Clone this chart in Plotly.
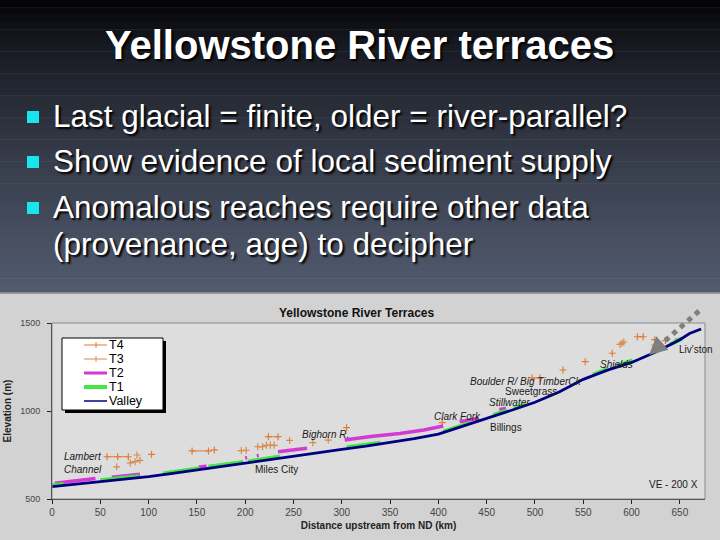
import plotly.graph_objects as go

# ---------------- data ----------------
valley_km = [0, 25, 50, 75, 100, 125, 150, 175, 200, 225, 250, 275, 300, 325, 350, 375,
             400, 425, 450, 475, 500, 525, 550, 575, 600, 625, 650, 660, 672]
valley_elev = [570, 584, 598, 612, 627, 645, 665, 684, 703, 725, 746, 764, 782, 800, 820, 843,
               869, 912, 958, 1003, 1050, 1108, 1180, 1232, 1276, 1335, 1405, 1440, 1466]

t1_km = [0, 12, None, 50, 70, 90, None, 115, 135, 153, None, 162, 180, 198, None, 203, 220, 236,
         None, 305, 320, 340, None, 405, 420, 433, None, 457, 471, None, 478, 490, None,
         560, 575, None, 585, 601, None, 640, 652]
t1_elev = [578, 585, None, 606, 617, 629, None, 645, 661, 675, None, 683, 696, 710, None, 713, 728, 741,
           None, 794, 804, 820, None, 882, 910, 932, None, 978, 1003, None, 1015, 1036, None,
           1206, 1240, None, 1258, 1287, None, 1378, 1412]

t2_km = [3, 25, 45, None, 62, 75, 91, None, 152, 160, None, 200, 202, None, 212, 214, None,
         234, 250, 264, None, 303, 330, 360, 385, 405, None, 422, 441, None, 463, 470, None, 645, 652]
t2_elev = [589, 603, 617, None, 623, 632, 641, None, 682, 686, None, 733, 735, None, 746, 748, None,
           769, 777, 788, None, 835, 855, 872, 892, 915, None, 939, 958, None, 1008, 1014, None, 1400, 1410]

t4_km = [57, 68, 79, None, 103, None, 145, 162, None, 168, None, 224, 234, None, 305, None, 404, None,
         497, 505, None, 529, None, 552, None, 580, None, 606, 612, None, 624, None, 635]
t4_elev = [740, 740, 740, None, 754, None, 773, 773, None, 779, None, 854, 854, None, 905, None, 934, None,
           1188, 1188, None, 1233, None, 1280, None, 1328, None, 1422, 1422, None, 1405, None, 1400]

t3_km = [67, None, 81, 86, 91, None, 88, None, 196, 201, None, 213, 218, None, 222, 226, 230, None,
         246, None, 270, None, 286, None, 588, 590, 592, None, 624]
t3_elev = [683, None, 705, 712, 720, None, 750, None, 775, 777, None, 797, 797, None, 805, 805, 805, None,
           833, None, 820, None, 835, None, 1378, 1385, 1392, None, 1375]

x_ticks = list(range(0, 651, 50))
y_ticks = [500, 1000, 1500]

place_names = ["<i>Lambert</i>", "<i>Channel</i>", "Miles City", "<i>Bighorn R.</i>", "<i>Clark Fork</i>",
               "Billings", "<i>Stillwater</i>", "Sweetgrass", "<i>Boulder R/ Big TimberCk</i>",
               "<i>Shields</i>", "Liv'ston", "VE - 200 X"]
place_km = [10, 10, 208, 257, 393, 451, 450, 467, 431, 565, 647, 616]
place_elev = [739, 665, 665, 869, 966, 909, 1051, 1108, 1165, 1267, 1352, 585]

bullets = ["Last glacial = finite, older = river-parallel?",
           "Show evidence of local sediment supply",
           "Anomalous reaches require other data",
           "(provenance, age) to decipher"]

legend_names = ["T4", "T3", "T2", "T1", "Valley"]

# ---------------- geometry helpers (pixel -> paper) ----------------
W, H = 720, 540
PL, PR, PT, PB = 52, 705, 323, 499
def fx(px):
    return (px - PL) / (PR - PL)
def fy(py):
    return (PB - py) / (PB - PT)

ORANGE4 = "#e07b39"
ORANGE3 = "#d98a4a"
MAGENTA = "#d23ad2"
GREEN = "#3ee83e"
NAVY = "#000080"
FONT = "Liberation Sans, Arial"

fig = go.Figure()
fig.add_trace(go.Scatter(x=t4_km, y=t4_elev, mode="lines+markers", name="T4",
                         line=dict(color=ORANGE4, width=1),
                         marker=dict(symbol="cross-thin", size=5, line=dict(color=ORANGE4, width=1.2)),
                         connectgaps=False))
fig.add_trace(go.Scatter(x=t3_km, y=t3_elev, mode="lines+markers", name="T3",
                         line=dict(color=ORANGE3, width=1),
                         marker=dict(symbol="cross-thin", size=5, line=dict(color=ORANGE3, width=1.2)),
                         connectgaps=False))
fig.add_trace(go.Scatter(x=t2_km, y=t2_elev, mode="lines", name="T2",
                         line=dict(color=MAGENTA, width=3.5), connectgaps=False))
fig.add_trace(go.Scatter(x=t1_km, y=t1_elev, mode="lines", name="T1",
                         line=dict(color=GREEN, width=4), connectgaps=False))
fig.add_trace(go.Scatter(x=valley_km, y=valley_elev, mode="lines", name="Valley",
                         line=dict(color=NAVY, width=2.8)))

shapes = []
annotations = []

# slide background gradient (top part)
def mix(c1, c2, t):
    return "#%02x%02x%02x" % tuple(int(round(a + (b - a) * t)) for a, b in zip(c1, c2))
top_c = (0, 0, 2)
bot_c = (82, 91, 111)
n = 40
for i in range(n):
    y0 = 293 * i / n - (6 if i == 0 else 0)
    y1 = 293 * (i + 1) / n + 0.5
    t = ((i + 0.5) / n) ** 0.7
    shapes.append(dict(type="rect", xref="paper", yref="paper", x0=fx(-6), x1=fx(W + 6),
                       y0=fy(y1), y1=fy(y0), fillcolor=mix(top_c, bot_c, t),
                       line=dict(width=0), layer="below"))
shapes.append(dict(type="line", xref="paper", yref="paper", x0=fx(-6), x1=fx(W + 6), y0=fy(293), y1=fy(293),
                   line=dict(color="#9a9a9a", width=1.5), layer="below"))

# slide title
annotations.append(dict(xref="paper", yref="paper", x=fx(359), y=fy(45), text="<b>Yellowstone River terraces</b>",
                        showarrow=False, xanchor="center", yanchor="middle",
                        font=dict(family=FONT, size=40, color="white",
                                  shadow="2px 2px 2px #000000")))
# bullets
bullet_y = [116, 161, 207, 244]
for i, txt in enumerate(bullets):
    annotations.append(dict(xref="paper", yref="paper", x=fx(51), y=fy(bullet_y[i]), text=txt,
                            showarrow=False, xanchor="left", yanchor="middle",
                            font=dict(family=FONT, size=31.5, color="white",
                                      shadow="2px 2px 2px #000000")))
for yc in bullet_y[:3]:
    shapes.append(dict(type="rect", xref="paper", yref="paper", x0=fx(27), x1=fx(39),
                       y0=fy(yc + 7), y1=fy(yc - 5), fillcolor="#18e6ec", line=dict(width=0)))

# chart title
annotations.append(dict(xref="paper", yref="paper", x=fx(357), y=fy(313), text="<b>Yellowstone River Terraces</b>",
                        showarrow=False, xanchor="center", yanchor="middle",
                        font=dict(family=FONT, size=12, color="#111111")))

# manual legend
shapes.append(dict(type="rect", xref="paper", yref="paper", x0=fx(65), x1=fx(166), y0=fy(413), y1=fy(341),
                   fillcolor="#000000", line=dict(width=0)))
shapes.append(dict(type="rect", xref="paper", yref="paper", x0=fx(62), x1=fx(163), y0=fy(410), y1=fy(338),
                   fillcolor="#ffffff", line=dict(color="#000000", width=1)))
leg_y = [345, 359, 373, 387, 401]
leg_col = [ORANGE4, ORANGE3, MAGENTA, GREEN, NAVY]
leg_w = [1, 1, 3, 4, 1.5]
for i, nm in enumerate(legend_names):
    shapes.append(dict(type="line", xref="paper", yref="paper", x0=fx(84), x1=fx(107), y0=fy(leg_y[i]), y1=fy(leg_y[i]),
                       line=dict(color=leg_col[i], width=leg_w[i])))
    if i < 2:
        shapes.append(dict(type="line", xref="paper", yref="paper", x0=fx(96), x1=fx(96),
                           y0=fy(leg_y[i] - 3), y1=fy(leg_y[i] + 3),
                           line=dict(color=leg_col[i], width=1)))
    annotations.append(dict(xref="paper", yref="paper", x=fx(107), y=fy(leg_y[i]), text=nm,
                            showarrow=False, xanchor="left", yanchor="middle",
                            font=dict(family=FONT, size=12.5, color="#000000")))

# place labels
for nm, xk, ye in zip(place_names, place_km, place_elev):
    annotations.append(dict(x=xk, y=ye, xref="x", yref="y", text=nm, showarrow=False,
                            xanchor="left", yanchor="middle",
                            font=dict(family=FONT, size=10, color="#1a1a1a")))

# grey dashed arrow to Livingston
shapes.append(dict(type="line", xref="paper", yref="paper", x0=fx(699), y0=fy(311), x1=fx(657), y1=fy(348),
                   line=dict(color="#7f7f7f", width=5, dash="dot")))
annotations.append(dict(xref="paper", yref="paper", x=fx(649), y=fy(355), ax=10, ay=-9,
                        text="", showarrow=True, arrowhead=2, arrowsize=0.9, arrowwidth=4,
                        arrowcolor="#7f7f7f"))

fig.update_layout(
    width=W, height=H,
    margin=dict(l=PL, r=W - PR, t=PT, b=H - PB, pad=0, autoexpand=False),
    paper_bgcolor="#d2d2d2",
    plot_bgcolor="#dddddd",
    showlegend=False,
    shapes=shapes,
    annotations=annotations,
    font=dict(family=FONT, size=10, color="#333333"),
    xaxis=dict(range=[0, 676], tickvals=x_ticks, ticks="outside", ticklen=4, tickcolor="#222222",
               automargin=False,
               showgrid=False, zeroline=False, showline=True, linecolor="#222222", linewidth=1,
               mirror=False, tickfont=dict(size=10, color="#444444"),
               title=dict(text="<b>Distance upstream from ND (km)</b>", standoff=4,
                          font=dict(size=10, color="#222222"))),
    yaxis=dict(range=[500, 1500], tickvals=y_ticks, ticks="outside", ticklen=4, tickcolor="#222222",
               automargin=False,
               showgrid=False, zeroline=False, showline=True, linecolor="#222222", linewidth=1,
               ticklabelstandoff=5,
               tickfont=dict(size=9, color="#444444"),
               title=dict(text="<b>Elevation (m)</b>", standoff=6,
                          font=dict(size=10, color="#222222"))),
)
# gray frame for top/right of plot area
fig.add_shape(type="rect", xref="paper", yref="paper", x0=0, x1=1, y0=0, y1=1,
              line=dict(color="#8a8a8a", width=1), layer="above")

post = ("document.documentElement.style.margin='0px';document.body.style.margin='0px';"
        "document.body.style.padding='0px';"
        "var d=document.getElementById('{plot_id}');d.style.position='absolute';"
        "d.style.left='0px';d.style.top='0px';")
fig.write_html("out.html", post_script=post, config={"displayModeBar": False})
